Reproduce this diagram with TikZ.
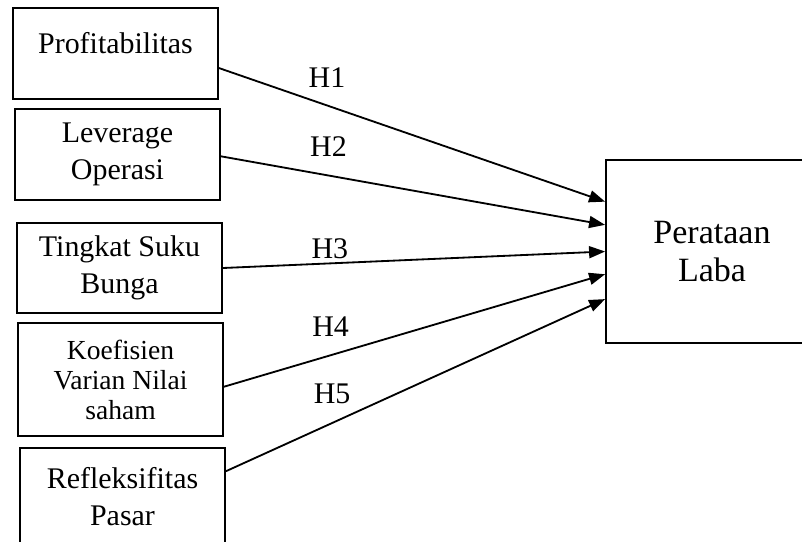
\documentclass[tikz,border=0pt]{standalone}
\usepackage{fontspec}
\setmainfont{Liberation Serif}
\usetikzlibrary{arrows.meta}

\begin{document}
\begin{tikzpicture}[every node/.style={font=\fontsize{21.3}{26.3}\selectfont}]
  \tikzstyle{varbox} = [rectangle, draw, line width=1.3pt, minimum width=5.125cm,
      minimum height=2.275cm, align=center, inner sep=2pt]
  \tikzstyle{depbox} = [rectangle, draw, line width=1.3pt, minimum width=5.3cm,
      minimum height=4.575cm, align=center, font=\fontsize{24.2}{27}\selectfont]
  \tikzstyle{arrow} = [-{Triangle[length=0.4cm,width=0.3cm]}, line width=1.3pt]
  \tikzstyle{hlabel} = [pos=0.28, inner sep=0pt]

  % page = the scanned frame; the dependent box runs off the right edge
  % and the last variable box runs off the bottom edge.
  \useasboundingbox (0,0) rectangle (20.05,-13.525);

  % independent variables, one column on the left
  \node (prof)  [varbox, text height=0.5cm, text depth=0.5cm] at (2.8875,-1.3375) {Profitabilitas};
  \node (lev)   [varbox]                     at (2.9375,-3.8625) {Leverage\\Operasi};
  \node (bunga) [varbox, minimum height=2.25cm] at (2.9875,-6.7) {Tingkat Suku\\Bunga};
  \node (koef)  [varbox, minimum height=2.825cm,
      font=\fontsize{19.6}{21.3}\selectfont] at (3.0125,-9.4875) {Koefisien\\Varian Nilai\\saham};
  \node (refl)  [varbox, minimum height=2.45cm] at (3.0625,-12.425) {Refleksifitas\\Pasar};

  % dependent variable
  \node (laba)  [depbox] at (17.8,-6.2875) {Perataan\\Laba};

  \draw[arrow] (prof.-8.6)  -- node[hlabel, above=0.43cm] {H1} (laba.155);
  \draw[arrow] (lev.-1.4)   -- node[hlabel, above=0.45cm] {H2} (laba.166.5);
  \draw[arrow] (bunga.east) -- node[hlabel, above=0.1cm] {H3} (laba.180.8);
  \draw[arrow] (koef.-4.7)  -- node[hlabel, above=0.45cm] {H4} (laba.192.5);
  \draw[arrow] (refl.14.8)  -- node[hlabel, above=0.45cm] {H5} (laba.204.6);
\end{tikzpicture}
\end{document}
